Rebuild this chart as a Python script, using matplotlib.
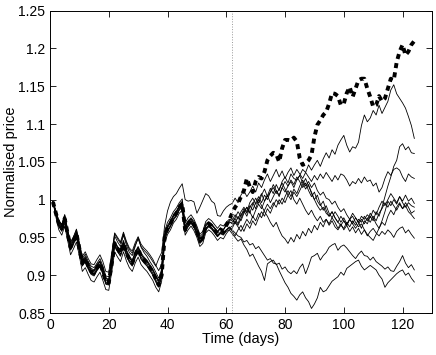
import numpy as np
import matplotlib
matplotlib.use("Agg")
import matplotlib.pyplot as plt

plt.rcParams['font.family'] = ['Liberation Sans', 'DejaVu Sans']

# observed (normalised) price, days 1..124
actual = [0.997, 0.982, 0.968, 0.962, 0.975, 0.955, 0.937, 0.945, 0.955, 0.935,
          0.916, 0.922, 0.912, 0.905, 0.903, 0.910, 0.916, 0.905, 0.891, 0.890,
          0.915, 0.942, 0.935, 0.929, 0.942, 0.930, 0.921, 0.916, 0.927, 0.935,
          0.925, 0.920, 0.916, 0.910, 0.904, 0.895, 0.887, 0.900, 0.950, 0.962,
          0.968, 0.977, 0.982, 0.990, 0.995, 0.960, 0.968, 0.973, 0.967, 0.958,
          0.946, 0.950, 0.964, 0.968, 0.965, 0.960, 0.955, 0.960, 0.958, 0.966,
          0.973, 0.982, 0.990, 0.995, 1.004, 1.012, 1.028, 1.017, 1.010, 1.024,
          1.030, 1.028, 1.037, 1.052, 1.058, 1.062, 1.060, 1.050, 1.068, 1.079,
          1.079, 1.078, 1.082, 1.077, 1.055, 1.046, 1.048, 1.052, 1.059, 1.083,
          1.099, 1.105, 1.112, 1.116, 1.127, 1.141, 1.140, 1.137, 1.125, 1.127,
          1.141, 1.149, 1.136, 1.147, 1.158, 1.160, 1.160, 1.147, 1.136, 1.123,
          1.125, 1.137, 1.130, 1.134, 1.147, 1.160, 1.158, 1.182, 1.196, 1.205,
          1.191, 1.196, 1.205, 1.210]

# simulated paths: days 1..61 (fit) and days 62..124 (forecast)
pre_a = [0.997, 0.984, 0.970, 0.965, 0.978, 0.958, 0.941, 0.948, 0.957, 0.939, 0.920, 0.925, 0.916, 0.909, 0.907, 0.914, 0.919, 0.909, 0.896, 0.895, 0.918, 0.945, 0.938, 0.933, 0.946, 0.934, 0.925, 0.920, 0.931, 0.938, 0.929, 0.924, 0.920, 0.914, 0.908, 0.900, 0.893, 0.905, 0.953, 0.966, 0.972, 0.980, 0.985, 0.992, 0.998, 0.965, 0.972, 0.976, 0.971, 0.962, 0.951, 0.955, 0.968, 0.971, 0.968, 0.963, 0.958, 0.963, 0.960, 0.966, 0.970]
pre_b = [0.997, 0.980, 0.965, 0.958, 0.971, 0.951, 0.933, 0.941, 0.951, 0.931, 0.912, 0.918, 0.908, 0.901, 0.899, 0.906, 0.912, 0.901, 0.888, 0.887, 0.911, 0.938, 0.931, 0.925, 0.938, 0.926, 0.917, 0.912, 0.923, 0.931, 0.921, 0.916, 0.912, 0.906, 0.900, 0.891, 0.884, 0.897, 0.946, 0.958, 0.964, 0.973, 0.978, 0.986, 0.990, 0.957, 0.964, 0.969, 0.963, 0.954, 0.942, 0.946, 0.960, 0.964, 0.961, 0.956, 0.951, 0.956, 0.954, 0.960, 0.962]
pre_c = [0.997, 0.985, 0.972, 0.967, 0.980, 0.960, 0.943, 0.950, 0.960, 0.941, 0.922, 0.928, 0.918, 0.912, 0.910, 0.916, 0.922, 0.912, 0.899, 0.898, 0.925, 0.955, 0.948, 0.942, 0.955, 0.943, 0.934, 0.929, 0.940, 0.948, 0.938, 0.933, 0.929, 0.924, 0.918, 0.912, 0.922, 0.930, 0.965, 0.985, 0.997, 1.004, 1.008, 1.015, 1.021, 1.000, 0.998, 0.999, 0.997, 0.982, 0.990, 0.999, 1.008, 1.005, 0.998, 0.995, 0.979, 0.978, 0.985, 0.990, 0.993]
pre_d = [0.997, 0.983, 0.967, 0.963, 0.976, 0.957, 0.939, 0.946, 0.956, 0.936, 0.918, 0.923, 0.914, 0.906, 0.905, 0.911, 0.918, 0.907, 0.893, 0.892, 0.916, 0.943, 0.937, 0.931, 0.943, 0.932, 0.923, 0.918, 0.929, 0.936, 0.927, 0.922, 0.918, 0.912, 0.906, 0.898, 0.890, 0.903, 0.951, 0.963, 0.969, 0.978, 0.983, 0.990, 0.996, 0.962, 0.969, 0.974, 0.968, 0.960, 0.948, 0.952, 0.965, 0.969, 0.966, 0.962, 0.957, 0.962, 0.960, 0.967, 0.972]
pre_e = [0.997, 0.977, 0.960, 0.953, 0.965, 0.946, 0.927, 0.935, 0.944, 0.925, 0.905, 0.910, 0.901, 0.893, 0.891, 0.898, 0.904, 0.893, 0.881, 0.880, 0.904, 0.931, 0.924, 0.918, 0.931, 0.919, 0.910, 0.905, 0.916, 0.924, 0.914, 0.909, 0.905, 0.899, 0.893, 0.884, 0.878, 0.892, 0.942, 0.954, 0.960, 0.969, 0.974, 0.982, 0.986, 0.953, 0.960, 0.965, 0.959, 0.950, 0.938, 0.942, 0.956, 0.960, 0.957, 0.952, 0.946, 0.950, 0.948, 0.955, 0.960]
pre_f = [0.997, 0.981, 0.966, 0.960, 0.973, 0.953, 0.935, 0.943, 0.953, 0.933, 0.914, 0.920, 0.910, 0.903, 0.901, 0.908, 0.914, 0.903, 0.890, 0.889, 0.920, 0.952, 0.944, 0.938, 0.953, 0.940, 0.930, 0.926, 0.938, 0.950, 0.937, 0.930, 0.925, 0.918, 0.912, 0.904, 0.896, 0.908, 0.952, 0.964, 0.970, 0.978, 0.983, 0.991, 0.994, 0.961, 0.968, 0.972, 0.966, 0.957, 0.944, 0.948, 0.962, 0.966, 0.963, 0.958, 0.952, 0.956, 0.954, 0.960, 0.964]
pre_g = [0.997, 0.984, 0.969, 0.964, 0.977, 0.956, 0.938, 0.947, 0.957, 0.937, 0.917, 0.923, 0.913, 0.907, 0.906, 0.913, 0.918, 0.908, 0.895, 0.894, 0.917, 0.944, 0.937, 0.931, 0.944, 0.932, 0.923, 0.918, 0.929, 0.937, 0.927, 0.922, 0.918, 0.912, 0.907, 0.899, 0.892, 0.904, 0.952, 0.964, 0.970, 0.979, 0.984, 0.991, 0.997, 0.963, 0.970, 0.975, 0.969, 0.960, 0.948, 0.952, 0.966, 0.970, 0.967, 0.962, 0.957, 0.962, 0.960, 0.967, 0.971]
pre_h = [0.997, 0.985, 0.972, 0.967, 0.980, 0.960, 0.944, 0.951, 0.961, 0.943, 0.925, 0.931, 0.922, 0.915, 0.914, 0.921, 0.927, 0.918, 0.905, 0.904, 0.929, 0.956, 0.950, 0.944, 0.957, 0.945, 0.936, 0.932, 0.943, 0.951, 0.941, 0.936, 0.932, 0.927, 0.921, 0.913, 0.906, 0.915, 0.958, 0.970, 0.976, 0.984, 0.989, 0.996, 1.001, 0.969, 0.976, 0.980, 0.974, 0.965, 0.954, 0.958, 0.971, 0.975, 0.972, 0.967, 0.962, 0.967, 0.965, 0.970, 0.974]
pre_i = [0.997, 0.980, 0.964, 0.959, 0.972, 0.952, 0.934, 0.942, 0.952, 0.932, 0.913, 0.919, 0.909, 0.902, 0.900, 0.907, 0.913, 0.902, 0.889, 0.888, 0.912, 0.939, 0.932, 0.926, 0.939, 0.927, 0.918, 0.913, 0.924, 0.932, 0.922, 0.917, 0.913, 0.907, 0.901, 0.892, 0.885, 0.898, 0.947, 0.959, 0.965, 0.974, 0.979, 0.987, 0.991, 0.958, 0.965, 0.970, 0.964, 0.955, 0.943, 0.947, 0.961, 0.965, 0.962, 0.957, 0.951, 0.955, 0.953, 0.958, 0.960]
pre_j = [0.997, 0.982, 0.967, 0.961, 0.974, 0.954, 0.936, 0.944, 0.954, 0.934, 0.915, 0.921, 0.911, 0.904, 0.902, 0.909, 0.915, 0.904, 0.891, 0.890, 0.914, 0.941, 0.934, 0.928, 0.941, 0.929, 0.920, 0.915, 0.926, 0.934, 0.924, 0.919, 0.915, 0.909, 0.903, 0.894, 0.887, 0.900, 0.949, 0.960, 0.966, 0.975, 0.980, 0.988, 0.993, 0.959, 0.966, 0.971, 0.965, 0.956, 0.944, 0.948, 0.962, 0.966, 0.963, 0.958, 0.953, 0.957, 0.955, 0.960, 0.963]

post_a = [0.970, 0.975, 0.968, 0.980, 0.985, 0.978, 0.990, 0.996, 0.988, 1.000, 1.008, 0.998, 1.005, 1.015, 1.008, 1.020, 1.012, 1.024, 1.030, 1.022, 1.034, 1.028, 1.026, 1.032, 1.040, 1.036, 1.046, 1.039, 1.046, 1.052, 1.044, 1.054, 1.062, 1.055, 1.066, 1.060, 1.072, 1.079, 1.085, 1.072, 1.063, 1.070, 1.068, 1.076, 1.098, 1.112, 1.103, 1.108, 1.118, 1.112, 1.125, 1.114, 1.122, 1.130, 1.145, 1.152, 1.140, 1.134, 1.128, 1.121, 1.110, 1.098, 1.081]
post_b = [0.965, 0.972, 0.966, 0.975, 0.984, 0.990, 0.982, 0.994, 1.002, 0.995, 1.006, 1.014, 1.004, 1.010, 1.020, 1.012, 1.004, 1.016, 1.024, 1.018, 1.026, 1.020, 1.030, 1.024, 1.016, 1.022, 1.012, 1.004, 1.010, 0.998, 0.992, 0.998, 0.986, 0.978, 0.984, 0.976, 0.970, 0.978, 0.972, 0.966, 0.974, 0.968, 0.976, 0.970, 0.962, 0.972, 0.968, 0.978, 0.972, 0.984, 0.978, 0.990, 1.004, 1.018, 1.030, 1.044, 1.052, 1.070, 1.074, 1.066, 1.070, 1.062, 1.061]
post_c = [0.995, 1.002, 0.996, 1.006, 1.012, 1.004, 1.010, 1.018, 1.010, 1.022, 1.016, 1.026, 1.034, 1.024, 1.032, 1.040, 1.030, 1.038, 1.028, 1.036, 1.042, 1.032, 1.040, 1.034, 1.028, 1.036, 1.030, 1.024, 1.032, 1.026, 1.034, 1.028, 1.036, 1.030, 1.024, 1.032, 1.026, 1.034, 1.032, 1.026, 1.018, 1.024, 1.021, 1.028, 1.022, 1.030, 1.024, 1.026, 1.018, 1.022, 1.010, 1.016, 1.028, 1.037, 1.032, 1.040, 1.042, 1.039, 1.030, 1.024, 1.034, 1.030, 1.028]
post_d = [0.975, 0.968, 0.978, 0.972, 0.982, 0.990, 0.984, 0.976, 0.986, 0.994, 0.988, 0.998, 1.006, 0.996, 1.004, 1.012, 1.006, 1.016, 1.010, 1.018, 1.024, 1.016, 1.026, 1.032, 1.022, 1.014, 1.020, 1.008, 1.000, 1.006, 0.994, 0.986, 0.992, 0.982, 0.976, 0.984, 0.978, 0.970, 0.976, 0.968, 0.974, 0.982, 0.976, 0.970, 0.978, 0.974, 0.980, 0.976, 0.986, 0.980, 0.990, 0.998, 0.992, 1.000, 1.008, 1.002, 0.996, 1.004, 0.998, 1.006, 0.998, 1.002, 0.995]
post_e = [0.962, 0.970, 0.964, 0.958, 0.966, 0.974, 0.968, 0.978, 0.972, 0.982, 0.976, 0.986, 0.994, 0.988, 0.996, 0.990, 1.000, 0.994, 1.004, 1.012, 1.004, 1.014, 1.008, 1.018, 1.026, 1.018, 1.024, 1.016, 1.022, 1.012, 1.006, 1.010, 1.002, 1.000, 0.994, 0.998, 0.990, 0.984, 0.988, 0.980, 0.974, 0.978, 0.970, 0.964, 0.968, 0.960, 0.954, 0.950, 0.946, 0.954, 0.962, 0.972, 0.984, 0.998, 0.992, 1.000, 0.994, 1.004, 0.996, 0.990, 0.996, 0.992, 0.990]
post_f = [0.958, 0.952, 0.960, 0.966, 0.958, 0.968, 0.962, 0.972, 0.966, 0.976, 0.984, 0.978, 0.988, 0.982, 0.992, 1.000, 0.994, 1.002, 0.996, 1.006, 1.000, 1.010, 1.004, 1.012, 1.020, 1.028, 1.018, 1.010, 1.000, 0.992, 0.986, 0.990, 0.982, 0.978, 0.984, 0.976, 0.970, 0.966, 0.972, 0.966, 0.974, 0.968, 0.962, 0.968, 0.974, 0.968, 0.976, 0.970, 0.978, 0.972, 0.982, 0.988, 0.996, 0.990, 0.998, 0.992, 0.986, 0.994, 0.988, 0.996, 0.990, 0.982, 0.985]
post_g = [0.968, 0.976, 0.984, 0.978, 0.988, 0.982, 0.992, 0.986, 0.996, 1.004, 0.996, 1.006, 1.000, 1.010, 1.016, 1.008, 1.014, 1.022, 1.014, 1.006, 1.012, 1.000, 0.994, 1.002, 0.994, 0.986, 0.980, 0.986, 0.978, 0.972, 0.978, 0.970, 0.974, 0.966, 0.972, 0.964, 0.960, 0.966, 0.962, 0.970, 0.964, 0.972, 0.966, 0.974, 0.970, 0.978, 0.972, 0.982, 0.976, 0.968, 0.962, 0.970, 0.966, 0.978, 0.986, 0.980, 0.990, 0.996, 0.988, 0.992, 0.984, 0.980, 0.975]
post_h = [0.972, 0.980, 0.974, 0.984, 0.990, 0.984, 0.996, 1.002, 0.994, 1.000, 0.992, 0.984, 0.978, 0.970, 0.964, 0.970, 0.960, 0.952, 0.948, 0.942, 0.950, 0.944, 0.954, 0.948, 0.958, 0.952, 0.962, 0.956, 0.966, 0.960, 0.970, 0.964, 0.974, 0.968, 0.976, 0.970, 0.962, 0.968, 0.960, 0.966, 0.958, 0.964, 0.956, 0.962, 0.954, 0.960, 0.952, 0.958, 0.962, 0.956, 0.952, 0.958, 0.954, 0.960, 0.956, 0.950, 0.958, 0.962, 0.964, 0.956, 0.960, 0.954, 0.949]
post_i = [0.955, 0.950, 0.945, 0.948, 0.940, 0.934, 0.925, 0.928, 0.920, 0.912, 0.905, 0.893, 0.915, 0.918, 0.920, 0.914, 0.916, 0.908, 0.911, 0.905, 0.902, 0.906, 0.902, 0.910, 0.915, 0.902, 0.912, 0.924, 0.926, 0.929, 0.920, 0.926, 0.930, 0.937, 0.940, 0.942, 0.933, 0.938, 0.940, 0.936, 0.931, 0.926, 0.922, 0.928, 0.932, 0.926, 0.925, 0.920, 0.924, 0.918, 0.915, 0.912, 0.908, 0.911, 0.906, 0.905, 0.912, 0.918, 0.926, 0.916, 0.910, 0.914, 0.907]
post_j = [0.960, 0.956, 0.952, 0.950, 0.944, 0.946, 0.940, 0.942, 0.935, 0.938, 0.932, 0.926, 0.920, 0.922, 0.916, 0.915, 0.906, 0.898, 0.890, 0.884, 0.876, 0.872, 0.867, 0.874, 0.878, 0.870, 0.865, 0.856, 0.862, 0.870, 0.884, 0.878, 0.880, 0.886, 0.892, 0.895, 0.898, 0.904, 0.900, 0.909, 0.912, 0.915, 0.918, 0.920, 0.912, 0.907, 0.910, 0.913, 0.910, 0.907, 0.900, 0.895, 0.884, 0.890, 0.894, 0.898, 0.902, 0.905, 0.907, 0.900, 0.903, 0.896, 0.891]

pres = [pre_a, pre_b, pre_c, pre_d, pre_e, pre_f, pre_g, pre_h, pre_i, pre_j]
posts = [post_a, post_b, post_c, post_d, post_e, post_f, post_g, post_h, post_i, post_j]
split_day = 62

for p in pres:
    assert len(p) == 61, len(p)
for p in posts:
    assert len(p) == 63, len(p)
assert len(actual) == 124

fig = plt.figure(figsize=(4.36, 3.55), dpi=100)
ax = fig.add_axes([0.1147, 0.1183, 0.876, 0.8516])

for pre, post in zip(pres, posts):
    path = pre + post
    ax.plot(np.arange(1, len(path) + 1), path, '-', color='k', lw=0.6)

ax.plot(np.arange(1, len(actual) + 1), actual, color='k', lw=2.8,
        linestyle=(0, (1.3, 1.1)))

ax.axvline(split_day, color='#999999', lw=0.7, linestyle=':')

ax.set_xlim(0, 130)
ax.set_ylim(0.85, 1.25)
ax.set_xticks([0, 20, 40, 60, 80, 100, 120])
yt = [0.85, 0.9, 0.95, 1.0, 1.05, 1.1, 1.15, 1.2, 1.25]
ax.set_yticks(yt)
ax.set_yticklabels(['%g' % v for v in yt])
ax.tick_params(direction='in', top=True, right=True, labelsize=10, length=4, width=0.6)
for s in ax.spines.values():
    s.set_linewidth(0.7)

ax.set_xlabel('Time (days)', fontsize=10.5, labelpad=0)
ax.set_ylabel('Normalised price', fontsize=10.5, labelpad=0)

fig.savefig('out.png', dpi=100)
